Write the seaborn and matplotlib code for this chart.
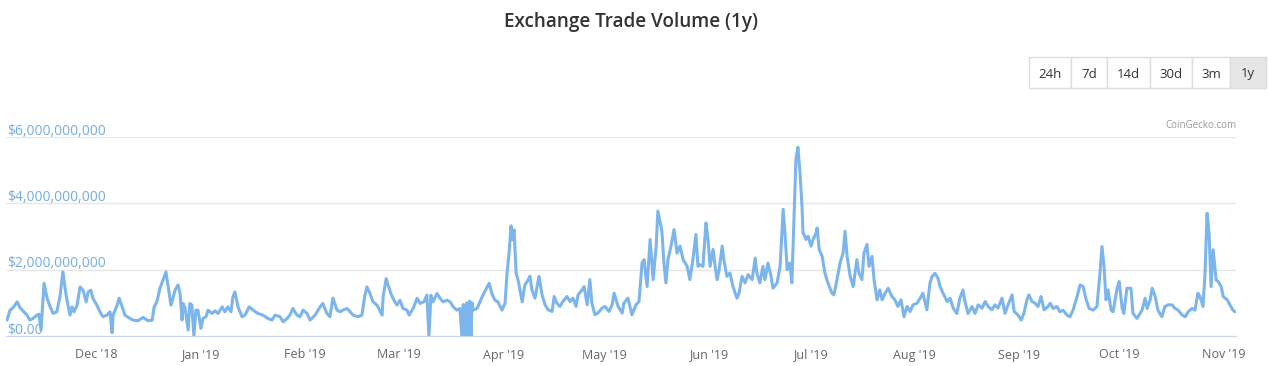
import pandas as pd
import numpy as np
import matplotlib
matplotlib.use("Agg")
import matplotlib.pyplot as plt
import matplotlib.dates as mdates
from matplotlib.patches import Rectangle
import seaborn as sns

# Data: day offset from series start, volume in billions USD
start_date = "2018-11-04 06:00"
day_offset = [
    0.3, 1.2, 2.1, 3.3, 4.2, 5.0, 6.2, 7.1, 8.0, 9.2, 9.8, 10.4, 11.0, 11.3, 12.2, 13.1,
    14.0, 15.1, 16.0, 16.9, 17.5, 18.1, 19.0, 19.6, 20.2, 21.1, 22.0, 22.9, 23.8, 24.4,
    25.2, 25.8, 27.0, 27.9, 28.8, 30.0, 30.9, 31.5, 31.8, 33.0, 33.6, 34.5, 35.3, 36.8,
    37.7, 39.2, 40.7, 42.2, 43.4, 44.0, 44.8, 45.7, 46.6, 47.5, 48.1, 49.0, 49.6,
    50.2, 51.1, 51.7, 52.3, 52.6, 53.2, 54.1, 54.6, 55.2, 55.8, 56.4, 57.0, 57.9, 58.5,
    59.4, 60.0, 61.2, 62.1, 63.0, 64.2, 65.0, 65.9, 66.8, 67.4, 68.0, 68.9, 70.1, 71.0,
    72.2, 73.4, 74.8, 76.3, 77.8, 79.0, 79.9, 81.4, 82.3, 83.5, 84.3, 85.2, 86.4, 87.3,
    88.2, 89.4, 90.3, 91.8, 93.3, 94.1, 95.3, 96.2, 97.1, 98.3, 99.2, 100.1, 101.3,
    102.2, 103.1, 104.5, 105.7, 106.6, 107.2, 108.1, 109.0, 110.2, 111.7, 112.0, 112.9,
    113.5, 114.3, 114.9, 116.1, 117.0, 117.9, 119.1, 119.7, 120.9, 122.1, 123.0, 124.1,
    125.0, 125.6, 126.2, 126.8, 128.0, 128.9, 129.8, 131.0, 131.9, 132.8, 133.9, 134.8,
    135.4, 135.8, 136.3, 136.8, 137.2, 137.7, 138.1, 138.4, 138.7, 139.9, 141.4, 142.9,
    143.5, 144.3, 145.2, 146.1, 147.3, 148.2, 148.8, 149.4, 150.0, 150.4, 150.9, 151.5,
    152.1, 153.3, 154.1, 155.0,
    155.6, 156.2, 157.1, 158.3, 159.2, 160.1, 161.0, 162.2, 162.8, 163.6, 164.5, 165.4,
    166.6, 167.5, 168.4, 169.3, 169.9, 171.1, 171.7, 172.6, 173.4, 174.0, 174.9, 175.8,
    177.0, 177.9, 179.1, 180.0, 180.6, 181.8, 183.0, 183.5, 184.7, 185.3, 185.9, 187.1,
    188.0, 188.9, 189.5, 190.4, 191.3, 192.2, 193.1, 193.6, 194.2, 194.8, 195.4, 196.0,
    196.6, 197.5, 198.4, 199.3, 200.2, 201.1, 202.3, 203.1, 204.0, 204.9, 205.5,
    206.1, 207.0, 207.6, 207.9, 208.5, 209.1, 210.0, 210.6, 211.2, 211.8, 212.7, 213.2,
    214.1, 215.0, 215.9, 217.1, 217.7, 218.6, 219.5, 220.4, 221.6, 222.5, 223.0, 223.9,
    224.8, 225.4, 226.3, 227.2, 227.8, 229.0, 229.9, 230.5, 230.8, 231.4, 232.0, 232.8,
    233.4, 234.0, 234.6, 235.2, 235.8, 236.4, 236.7, 237.6, 238.2, 239.1, 239.7, 240.6,
    240.9, 241.5, 242.4, 243.2, 244.1, 245.3, 245.9, 246.8, 247.7, 248.6, 249.2, 249.8,
    250.7, 251.6, 252.7, 253.3, 254.2, 254.8, 255.7, 256.3, 257.2, 257.8,
    258.7, 259.5, 260.2, 261.1, 262.0, 263.1, 264.0, 264.9, 265.8, 266.7, 267.6, 268.5,
    269.4, 270.6, 271.5, 272.3, 273.5, 274.4, 275.0, 275.9, 276.8, 277.4, 278.3, 279.5,
    280.4, 281.3, 282.4, 283.3, 284.2, 284.8, 285.7, 286.9, 287.8, 288.7, 289.9, 290.8,
    291.7, 292.8, 293.7, 294.6, 295.8, 296.7, 297.6, 298.8, 299.4, 300.6, 301.5, 302.3,
    303.2, 303.8, 304.7, 305.6, 306.5, 307.4, 308.3, 309.5,
    310.1, 311.0, 312.1, 313.0, 313.9, 315.1, 316.0, 316.9, 318.1, 319.0, 319.9, 320.8,
    321.7, 322.9, 324.0, 324.9, 325.5, 326.1, 326.7, 327.3, 328.2, 328.8, 330.0, 330.6,
    331.5, 332.0, 332.9, 334.1, 334.7, 335.9, 337.4, 338.3, 338.9, 339.8, 340.4, 341.3,
    342.1, 343.3, 344.2, 345.1, 346.3, 347.2, 348.1, 349.3, 350.2, 351.1, 352.2, 353.1,
    354.0, 354.6, 355.5, 356.1, 356.7, 357.3, 357.9, 358.5, 359.4, 360.0, 360.9, 361.5,
    362.7, 363.5, 364.4, 365.0,
]
volume_bn = [
    0.48, 0.78, 0.85, 1.03, 0.85, 0.76, 0.63, 0.48, 0.53, 0.63, 0.66, 0.18, 1.14, 1.59, 1.14, 0.88,
    0.68, 0.73, 1.18, 1.93, 1.48, 1.08, 0.63, 0.88, 0.73, 0.93, 1.48, 1.38, 1.03, 1.33,
    1.38, 1.14, 0.93, 0.73, 0.58, 0.63, 0.73, 0.10, 0.63, 0.93, 1.14, 0.88, 0.63, 0.53,
    0.48, 0.46, 0.56, 0.46, 0.48, 0.88, 1.03, 1.43, 1.68, 1.93, 1.53, 0.93, 1.14,
    1.38, 1.54, 1.28, 0.48, 0.98, 0.83, 0.18, 0.98, 0.93, 0.00, 0.78, 0.78, 0.23, 0.53,
    0.58, 0.78, 0.68, 0.76, 0.68, 0.88, 0.73, 0.88, 0.73, 1.18, 1.33, 0.88, 0.58, 0.63,
    0.88, 0.78, 0.68, 0.63, 0.53, 0.48, 0.63, 0.58, 0.43, 0.53, 0.63, 0.83, 0.63, 0.58,
    0.78, 0.68, 0.48, 0.63, 0.88, 0.98, 0.68, 0.58, 1.14, 0.78, 0.73, 0.78, 0.83,
    0.73, 0.63, 0.58, 0.63, 1.23, 1.48, 1.28, 1.03, 0.93, 0.63, 1.18, 1.73,
    1.53, 1.28, 1.14, 0.93, 1.08, 0.83, 0.78, 0.63, 0.83, 1.14, 0.98, 1.03,
    1.23, 0.00, 1.23, 1.03, 1.28, 1.14, 1.03, 1.08, 1.03, 0.88, 0.78, 0.83,
    0.00, 0.95, 0.00, 1.00, 0.00, 1.05, 0.00, 1.00, 0.78, 0.83, 1.18, 1.48,
    1.59, 1.28, 1.08, 1.03, 0.78, 0.98, 1.89, 2.50, 3.32, 2.90, 3.20, 1.89,
    1.68, 1.03, 1.54, 1.68,
    1.80, 1.39, 1.14, 1.80, 1.24, 0.94, 0.79, 0.74, 1.19, 0.99, 0.89, 1.04,
    1.19, 1.04, 1.14, 0.89, 1.24, 1.39, 1.49, 0.94, 1.70, 0.99, 0.64, 0.69,
    0.84, 0.89, 0.74, 0.94, 1.29, 0.89, 0.69, 0.99, 1.14, 0.89, 0.64, 0.94,
    1.04, 2.20, 2.30, 1.49, 2.91, 1.70, 2.71, 3.77, 3.46, 3.16, 2.20, 1.60,
    2.30, 2.71, 3.21, 2.50, 2.71, 2.30, 2.10, 1.70, 2.30, 3.06, 2.10,
    2.15, 2.10, 3.01, 3.41, 2.91, 2.10, 2.61, 2.10, 1.70, 2.00, 2.71, 2.30,
    1.80, 1.90, 1.49, 1.14, 1.29, 1.80, 1.60, 1.85, 1.70, 2.35, 1.90, 1.60,
    2.10, 1.70, 2.20, 1.80, 1.44, 1.60, 2.10, 3.21, 3.82, 3.01, 2.00, 2.20,
    1.60, 3.51, 5.33, 5.69, 4.93, 3.92, 3.11, 2.91, 3.01, 2.71, 2.91, 3.11,
    3.26, 2.61, 2.40, 1.90, 1.60, 1.29, 1.24, 1.70, 2.20, 2.50, 3.16, 2.40,
    1.80, 1.49, 2.30, 1.90, 1.70, 2.50, 2.76, 2.10, 2.40, 1.70,
    1.09, 1.39, 1.09, 1.29, 1.44, 1.19, 1.09, 0.89, 1.09, 0.58, 0.89, 0.74,
    0.94, 0.99, 1.14, 1.29, 0.79, 1.59, 1.79, 1.89, 1.74, 1.49, 1.29, 1.04,
    1.14, 0.84, 0.68, 1.14, 1.39, 1.04, 0.68, 0.89, 0.68, 0.94, 0.84, 1.04,
    0.89, 0.79, 0.94, 0.84, 1.14, 0.68, 0.94, 1.24, 0.74, 0.63, 0.48, 0.68,
    1.09, 1.24, 1.04, 0.99, 0.89, 1.19, 0.79, 0.89,
    0.99, 0.83, 0.89, 0.73, 0.78, 0.63, 0.58, 0.78, 1.19, 1.54, 1.49, 1.09,
    0.83, 0.78, 0.89, 1.89, 2.70, 2.09, 1.09, 1.39, 0.78, 0.73, 1.44, 1.64,
    0.83, 0.68, 1.44, 1.44, 0.68, 0.53, 0.78, 1.14, 0.83, 1.09, 1.44, 1.19,
    0.78, 0.58, 0.89, 0.94, 0.94, 0.83, 0.78, 0.63, 0.58, 0.73, 0.83, 0.78,
    1.29, 1.19, 0.89, 1.89, 3.70, 3.10, 1.49, 2.60, 1.69, 1.64, 1.49, 1.19,
    1.09, 0.94, 0.78, 0.73,
]
y_ticks = [0, 2e9, 4e9, 6e9]
y_tick_labels = ["$0.00", "$2,000,000,000", "$4,000,000,000", "$6,000,000,000"]
range_buttons = ["24h", "7d", "14d", "30d", "3m", "1y"]
selected_range = "1y"

t0 = pd.Timestamp(start_date)
df = pd.DataFrame({
    "date": t0 + pd.to_timedelta(day_offset, unit="D"),
    "volume": np.array(volume_bn) * 1e9,
})

sns.set_style("white")
plt.rcParams["font.family"] = ["Open Sans", "DejaVu Sans"]

W, H = 1268, 366
fig = plt.figure(figsize=(W / 100, H / 100), dpi=100)
ax = fig.add_axes([6 / W, 30 / H, 1230 / W, 199 / H])

sns.lineplot(data=df, x="date", y="volume", ax=ax, color="#7cb5ec", linewidth=2.2)

ax.set_xlim(t0, t0 + pd.Timedelta(days=365.3))
ax.set_ylim(0, 6e9)

# horizontal grid
ax.set_yticks(y_ticks)
ax.yaxis.grid(True, color="#e6e6e6", linewidth=1)
ax.set_axisbelow(True)
ax.tick_params(axis="y", length=0, labelleft=False)
for v, lab in zip(y_ticks, y_tick_labels):
    ax.text(0.001, v + 0.07e9, lab, transform=ax.get_yaxis_transform(),
            ha="left", va="baseline", fontsize=10, color="#74ade0")

# x axis
ax.xaxis.set_major_locator(mdates.MonthLocator())
ax.xaxis.set_major_formatter(mdates.DateFormatter("%b '%y"))
ax.tick_params(axis="x", length=8, width=1, color="#ccd6eb", labelsize=9,
               labelcolor="#666666", pad=1)
for s in ["left", "right", "top"]:
    ax.spines[s].set_visible(False)
ax.spines["bottom"].set_color("#ccd6eb")
ax.set_xlabel("")
ax.set_ylabel("")

# title and credit
fig.text(631 / W, 1 - 22 / H, "Exchange Trade Volume (1y)", ha="center", va="center",
         fontsize=13.6, fontweight="semibold", color="#333333")
fig.text(1236 / W, 1 - 125 / H, "CoinGecko.com", ha="right", va="center",
         fontsize=7, color="#999999")

# range selector buttons
edges = [1029, 1071, 1107, 1150, 1192, 1230, 1266]
for i, lab in enumerate(range_buttons):
    x0, x1 = edges[i], edges[i + 1]
    face = "#e6e6e6" if lab == selected_range else "white"
    fig.patches.append(Rectangle((x0 / W, 1 - 88 / H), (x1 - x0) / W, 31 / H,
                                 transform=fig.transFigure, facecolor=face,
                                 edgecolor="#dddddd", linewidth=1))
    fig.text((x0 + x1) / 2 / W, 1 - 74 / H, lab, ha="center", va="center",
             fontsize=9.5, color="#333333")

fig.savefig("out.png", dpi=100)
